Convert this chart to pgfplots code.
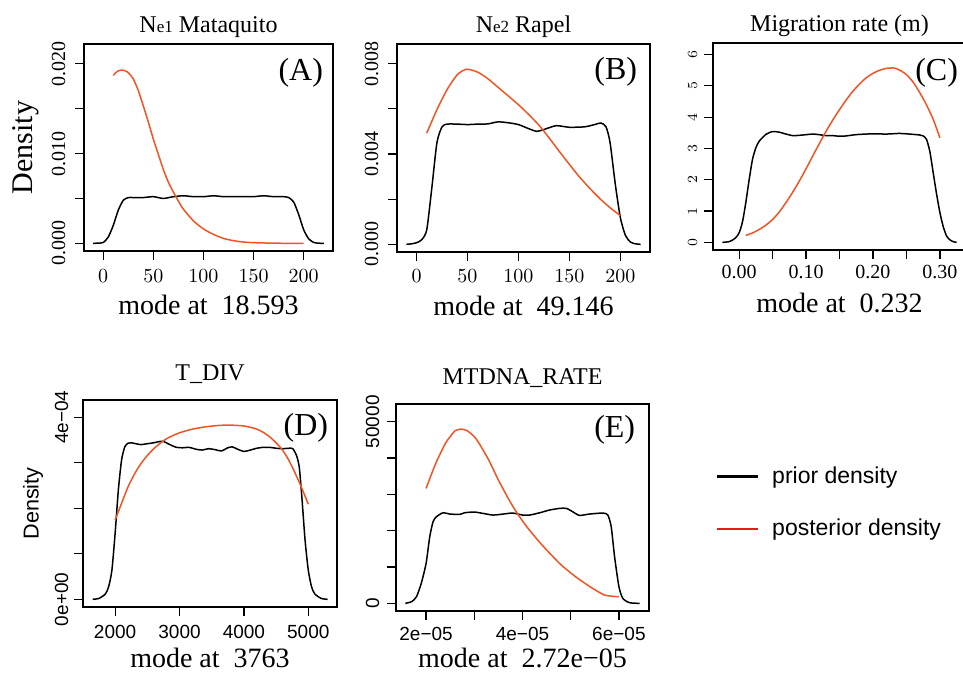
\documentclass[border=0pt]{standalone}
\usepackage{fontspec}
\setmainfont{Liberation Serif}
\setsansfont{Liberation Sans}
\usepackage{pgfplots}
\pgfplotsset{compat=1.18}

\definecolor{post}{RGB}{240,84,35}
\definecolor{legred}{RGB}{228,26,28}

% one R-style density panel
\pgfplotsset{
  rpanel/.style={
    scale only axis,
    axis line style={line width=0.6pt},
    tick align=outside, xtick pos=left, ytick pos=left,
    major tick length=4.5pt,
    every tick/.style={black, line width=0.6pt},
    scaled x ticks=false, scaled y ticks=false,
    xticklabel style={anchor=base},
    yticklabel style={rotate=90, anchor=base},
    title style={anchor=base, yshift=-6pt, font=\fontsize{12}{14}\selectfont},
    xlabel style={anchor=base, font=\fontsize{14}{16}\selectfont},
    ticklabel style={font=\fontsize{10}{12}\selectfont},
  },
  prior/.style={black, line width=0.75pt, smooth, tension=0.4},
  poste/.style={post, line width=0.75pt, smooth, tension=0.4},
}
\tikzset{tag/.style={anchor=base east, font=\fontsize{16}{18}\selectfont}}

\begin{document}
\begin{tikzpicture}
\path[use as bounding box] (0,0) rectangle (481.5pt,-337pt);

% (A)
\begin{axis}[rpanel, at={(42pt,-22pt)}, anchor=north west,
  width=124.5pt, height=103.5pt,
  xmin=-19.2, xmax=229.2, ymin=-0.00085, ymax=0.0222,
  xtick={0,50,100,150,200},
  ytick={0,0.005,0.01,0.015,0.02}, yticklabels={0.000,,0.010,,0.020},
  xticklabel shift=11pt, yticklabel shift=5pt,
  title={N{\fontsize{8.5}{10}\selectfont e1} Mataquito}, title style={at={(0.5,1.055)}},
  xlabel={mode at~~18.593}, xlabel style={at={(axis description cs:0.5,-0.309)}},
  ylabel={Density}, ylabel style={at={(axis description cs:-0.205,0.5)}, anchor=base, font=\fontsize{15}{17}\selectfont},
]
\addplot[prior] coordinates {
(-10,0) (-5,0.00003) (0,0.0001) (5,0.0007) (10,0.0020) (15,0.0037) (20,0.0048)
(25,0.0051) (30,0.0051) (40,0.0051) (50,0.0052) (60,0.0050) (70,0.0052) (80,0.0053)
(90,0.0052) (100,0.0052) (110,0.0053) (120,0.0052) (130,0.0052) (140,0.0052)
(150,0.0052) (160,0.0053) (170,0.0052) (180,0.0052) (185,0.0051) (190,0.0046)
(195,0.0032) (200,0.0015) (205,0.0005) (210,0.0001) (215,0.00002) (220,0)
};
\addplot[poste] coordinates {
(10,0.0187) (14,0.01915) (18.6,0.0193) (24,0.0191) (30,0.0183) (35,0.0170) (40,0.0153)
(45,0.0135) (50,0.0116) (55,0.0099) (60,0.0082) (65,0.0068) (70,0.0057) (75,0.0047)
(80,0.0038) (90,0.0025) (100,0.0016) (110,0.0010) (120,0.00055) (130,0.0003)
(140,0.00015) (150,0.00008) (170,0.00002) (200,0)
};
\node[tag] at (axis description cs:0.988,0.826) {(A)};
\end{axis}

% (B)
\begin{axis}[rpanel, at={(198.5pt,-22pt)}, anchor=north west,
  width=126.5pt, height=104pt,
  xmin=-19.2, xmax=229.2, ymin=-0.000341, ymax=0.008866,
  xtick={0,50,100,150,200},
  ytick={0,0.002,0.004,0.006,0.008}, yticklabels={0.000,,0.004,,0.008},
  xticklabel shift=10.5pt, yticklabel shift=5pt,
  title={N{\fontsize{8.5}{10}\selectfont e2} Rapel}, title style={at={(0.5,1.055)}},
  xlabel={mode at~~49.146}, xlabel style={at={(axis description cs:0.5,-0.303)}},
]
\addplot[prior] coordinates {
(-10,0) (-5,0.00002) (0,0.00007) (5,0.0002) (10,0.00064) (15,0.0025) (20,0.0045)
(25,0.0052) (30,0.00532) (40,0.00532) (50,0.0053) (60,0.00532) (70,0.00533)
(80,0.00542) (90,0.00538) (100,0.00530) (110,0.00512) (118,0.00500) (125,0.00508)
(137,0.00525) (150,0.00518) (165,0.00520) (175,0.00530) (181,0.00537) (186,0.0052)
(190,0.0045) (195,0.0027) (200,0.0012) (205,0.0004) (210,0.0001) (215,0.00002) (220,0)
};
\addplot[poste] coordinates {
(10,0.00492) (20,0.00596) (30,0.00685) (40,0.00751) (49.1,0.00775) (60,0.00762)
(70,0.00733) (80,0.00695) (90,0.00657) (100,0.00618) (110,0.00575) (120,0.00528)
(130,0.00472) (140,0.00412) (150,0.00354) (160,0.00298) (170,0.00248) (180,0.00202)
(190,0.00162) (200,0.00127)
};
\node[tag] at (axis description cs:0.977,0.827) {(B)};
\end{axis}

% (C)
\begin{axis}[rpanel, at={(356.5pt,-21.5pt)}, anchor=north west,
  width=126.5pt, height=103.5pt,
  xmin=-0.039, xmax=0.339, ymin=-0.245, ymax=6.37,
  xtick={0,0.05,0.1,0.15,0.2,0.25,0.3}, xticklabels={0.00,,0.10,,0.20,,0.30},
  ytick={0,1,2,3,4,5,6},
  yticklabel style={font=\sffamily\fontsize{7}{8}\selectfont},
  xticklabel shift=9.5pt, yticklabel shift=3.5pt,
  title={Migration rate (m)}, title style={at={(0.5,1.055)}},
  xlabel={mode at~~0.232}, xlabel style={at={(axis description cs:0.5,-0.30)}},
]
\addplot[prior] coordinates {
(-0.025,0) (-0.015,0.02) (-0.01,0.07) (-0.005,0.15) (0,0.30) (0.005,0.65) (0.01,1.27)
(0.015,2.0) (0.02,2.65) (0.025,3.02) (0.03,3.23) (0.04,3.45) (0.05,3.54) (0.06,3.52)
(0.07,3.46) (0.08,3.41) (0.09,3.42) (0.10,3.44) (0.11,3.46) (0.12,3.44) (0.13,3.41)
(0.14,3.41) (0.15,3.39) (0.16,3.40) (0.17,3.43) (0.18,3.45) (0.19,3.46) (0.20,3.47)
(0.22,3.46) (0.24,3.48) (0.26,3.45) (0.27,3.43) (0.275,3.40) (0.28,3.29) (0.285,2.90)
(0.29,2.22) (0.295,1.55) (0.30,0.95) (0.305,0.50) (0.31,0.20) (0.315,0.08) (0.32,0.02)
(0.325,0)
};
\addplot[poste] coordinates {
(0.01,0.22) (0.02,0.30) (0.03,0.41) (0.04,0.55) (0.05,0.73) (0.06,0.97) (0.07,1.27)
(0.08,1.60) (0.09,1.96) (0.10,2.35) (0.11,2.76) (0.12,3.16) (0.13,3.55) (0.14,3.91)
(0.15,4.24) (0.16,4.55) (0.17,4.83) (0.18,5.06) (0.19,5.26) (0.20,5.40) (0.21,5.50)
(0.22,5.56) (0.232,5.57) (0.24,5.50) (0.25,5.36) (0.26,5.12) (0.27,4.78) (0.28,4.39)
(0.29,3.93) (0.30,3.34)
};
\node[tag] at (axis description cs:0.996,0.821) {(C)};
\end{axis}

% (D)
\begin{axis}[rpanel, at={(41.5pt,-200pt)}, anchor=north west,
  width=127pt, height=103.5pt,
  xmin=1501, xmax=5446, ymin=-0.0000169, ymax=0.000438,
  xtick={2000,3000,4000,5000}, xticklabels={2000,3000,4000,5000},
  ytick={0,0.0001,0.0002,0.0003,0.0004}, yticklabels={0e+00,,,,4e−04},
  ticklabel style={font=\sffamily\fontsize{9.5}{11}\selectfont},
  xticklabel shift=11pt, yticklabel shift=3pt,
  title={T\_DIV}, title style={at={(0.5,1.095)}},
  xlabel={mode at~~3763}, xlabel style={at={(axis description cs:0.5,-0.29)}},
  ylabel={Density}, ylabel style={at={(axis description cs:-0.175,0.5)}, anchor=base, font=\sffamily\fontsize{10.8}{12}\selectfont},
]
\addplot[prior] coordinates {
(1650,0) (1750,0.000002) (1850,0.000012) (1900,0.000028) (1950,0.000064)
(2000,0.000145) (2050,0.000240) (2100,0.000306) (2150,0.000335) (2200,0.000343)
(2250,0.000344) (2320,0.000342) (2400,0.000340) (2500,0.000342) (2600,0.000344)
(2700,0.000347) (2750,0.000347) (2850,0.000340) (2950,0.000334) (3050,0.000333)
(3150,0.000334) (3250,0.000330) (3350,0.000328) (3450,0.000331) (3550,0.000329)
(3650,0.000326) (3750,0.000333) (3820,0.000335) (3900,0.000330) (4000,0.000325)
(4100,0.000328) (4200,0.000332) (4300,0.000334) (4400,0.000334) (4500,0.000332)
(4600,0.000331) (4700,0.000332) (4760,0.000331) (4820,0.000315) (4860,0.000290)
(4900,0.000225) (4950,0.000130) (5000,0.000064) (5050,0.000028) (5100,0.000012)
(5200,0.000002) (5300,0)
};
\addplot[poste] coordinates {
(2000,0.000174) (2100,0.000211) (2200,0.000247) (2300,0.000275) (2400,0.000298)
(2500,0.000316) (2600,0.000331) (2700,0.000343) (2800,0.000353) (2900,0.000360)
(3000,0.000366) (3200,0.000374) (3400,0.000379) (3600,0.000382) (3763,0.000383)
(3900,0.000382) (4000,0.000381) (4100,0.000378) (4200,0.000374) (4300,0.000367)
(4400,0.000357) (4500,0.000344) (4600,0.000328) (4700,0.000305) (4800,0.000276)
(4900,0.000244) (5000,0.000209)
};
\node[tag] at (axis description cs:0.993,0.83) {(D)};
\end{axis}

% (E)
\begin{axis}[rpanel, at={(198pt,-202pt)}, anchor=north west,
  width=126.5pt, height=103.5pt,
  xmin=0.00001376, xmax=0.00006624, ymin=-2111, ymax=54890,
  xtick={0.00002,0.00003,0.00004,0.00005,0.00006}, xticklabels={2e−05,,4e−05,,6e−05},
  ytick={0,10000,20000,30000,40000,50000}, yticklabels={0,,,,,50000},
  ticklabel style={font=\sffamily\fontsize{9.5}{11}\selectfont},
  xticklabel shift=10pt, yticklabel shift=4pt,
  title={MTDNA\_RATE}, title style={at={(0.5,1.095)}},
  xlabel={mode at~~2.72e−05}, xlabel style={at={(axis description cs:0.5,-0.275)}},
  legend style={at={(axis description cs:1.261,0.70)}, anchor=north west,
    draw=none, fill=none, inner sep=0pt, row sep=16.5pt,
    nodes={inner sep=0pt}, font=\sffamily\fontsize{11.5}{13}\selectfont},
  legend cell align=left,
  legend image code/.code={\draw[#1] (0pt,0pt) -- (20.5pt,0pt); \path (27pt,0pt);},
]
\addplot[prior, forget plot] coordinates {
(0.0000157,0) (0.0000170,460) (0.0000180,1800) (0.0000190,5500) (0.0000200,11000)
(0.00002076,18350) (0.00002145,22480) (0.00002214,23850) (0.00002352,24950)
(0.0000249,24590) (0.00002698,24500) (0.0000280,24950) (0.0000300,25140)
(0.0000318,24770) (0.0000339,24310) (0.0000360,24590) (0.0000380,24860)
(0.0000400,24310) (0.0000415,24310) (0.0000436,24950) (0.0000456,25690)
(0.0000477,26150) (0.0000491,26150) (0.0000504,25230) (0.0000518,24220)
(0.0000539,24590) (0.0000567,24860) (0.0000577,24310) (0.0000584,21100)
(0.0000591,12840) (0.0000600,4590) (0.0000608,1380) (0.0000622,180) (0.0000643,0)
};
\addplot[poste, forget plot] coordinates {
(0.0000200,31650) (0.0000220,38530) (0.0000240,44040) (0.0000250,45900)
(0.0000260,47500) (0.0000272,47980) (0.0000285,47550) (0.0000300,45900)
(0.0000310,44040) (0.0000330,39450) (0.0000350,33940) (0.0000370,29000)
(0.0000380,26700) (0.0000390,24600) (0.0000400,22700) (0.0000410,20900)
(0.0000420,19250) (0.0000435,16900) (0.0000450,14700) (0.0000480,10600)
(0.0000510,7340) (0.0000540,4590) (0.0000570,2290) (0.0000600,1830)
};
\node[tag] at (axis description cs:0.973,0.836) {(E)};
\addlegendimage{black, line width=1.4pt}
\addlegendentry{prior density}
\addlegendimage{legred, line width=1.4pt}
\addlegendentry{posterior density}
\end{axis}
\end{tikzpicture}
\end{document}
